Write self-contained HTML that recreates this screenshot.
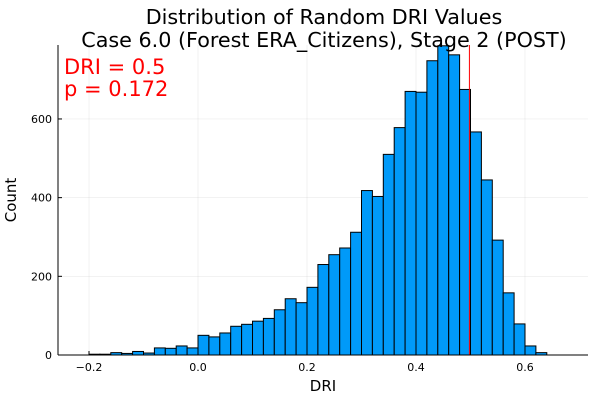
<!DOCTYPE html>
<html><head><meta charset="utf-8"><style>
body{margin:0;background:#fff;}
svg{display:block;font-family:"DejaVu Sans","Liberation Sans",sans-serif;}
</style></head><body>
<svg id="chart" width="600" height="400" viewBox="0 0 600 400" xmlns="http://www.w3.org/2000/svg">
<rect width="600" height="400" fill="#fff"/>
<g id="grid"></g>
<g id="bars"></g>
<g id="axes"></g>
<text x="324" y="24" font-size="20.7" text-anchor="middle" fill="#000">Distribution of Random DRI Values</text>
<text x="324" y="47" font-size="20.7" text-anchor="middle" fill="#000">Case 6.0 (Forest ERA_Citizens), Stage 2 (POST)</text>
<text x="323" y="391" font-size="15" text-anchor="middle">DRI</text>
<text transform="translate(16,200) rotate(-90)" font-size="15" text-anchor="middle">Count</text>
<text x="64" y="74" font-size="21" fill="#ff0000">DRI = 0.5</text>
<text x="64" y="96" font-size="21" fill="#ff0000">p = 0.172</text>
</svg>
<script>
const binStarts = [-0.20,-0.18,-0.16,-0.14,-0.12,-0.10,-0.08,-0.06,-0.04,-0.02,0.00,0.02,0.04,0.06,0.08,0.10,0.12,0.14,0.16,0.18,0.20,0.22,0.24,0.26,0.28,0.30,0.32,0.34,0.36,0.38,0.40,0.42,0.44,0.46,0.48,0.50,0.52,0.54,0.56,0.58,0.60,0.62];
const counts = [2,2,6,4,9,5,18,17,23,18,50,46,56,73,78,86,93,115,143,133,172,230,255,272,312,418,403,510,578,670,668,748,786,763,675,567,445,292,158,79,23,6];
const binWidth = 0.02;
const xTicks = [-0.2,0.0,0.2,0.4,0.6];
const xTickLabels = ["−0.2","0.0","0.2","0.4","0.6"];
const yTicks = [0,200,400,600];
const yTickLabels = ["0","200","400","600"];
const observedDRI = 0.498;

const L=58,R=588,T=45,B=355;
const xMin=-0.2569, xMax=0.7156, yMax=788;
const xs = v => L + (v - xMin)/(xMax - xMin)*(R-L);
const ys = v => B - v/yMax*(B-T);
const NS="http://www.w3.org/2000/svg";
function mk(tag, attrs, parent){const e=document.createElementNS(NS,tag);for(const k in attrs)e.setAttribute(k,attrs[k]);parent.appendChild(e);return e;}
const grid=document.getElementById('grid'), bars=document.getElementById('bars'), axes=document.getElementById('axes');
xTicks.forEach((t,i)=>{
  const g=mk('line',{x1:xs(t),x2:xs(t),y1:T,y2:B,stroke:'#000','stroke-opacity':0.1,'stroke-width':0.5},grid);
  
  
  const tk=mk('line',{x1:xs(t),x2:xs(t),y1:B,y2:B-4,stroke:'#000','stroke-width':1},axes);
  
  
  const lb=mk('text',{x:xs(t),y:B+16,'font-size':11,'text-anchor':'middle'},axes);
  lb.textContent=xTickLabels[i];
  
  
});
yTicks.forEach((t,i)=>{
  const g=mk('line',{x1:L,x2:R,y1:ys(t),y2:ys(t),stroke:'#000','stroke-opacity':0.1,'stroke-width':0.5},grid);
  
  
  const tk=mk('line',{x1:L,x2:L+4,y1:ys(t),y2:ys(t),stroke:'#000','stroke-width':1},axes);
  
  
  const lb=mk('text',{x:L-6,y:ys(t)+4,'font-size':11,'text-anchor':'end'},axes);
  lb.textContent=yTickLabels[i];
  
  
});
binStarts.forEach((s,i)=>{
  const x0=xs(s), x1=xs(s+binWidth), y0=ys(counts[i]);
  const r=mk('rect',{x:x0,y:y0,width:x1-x0,height:B-y0,fill:'#009af9',stroke:'#000','stroke-width':1},bars);
  
  
});
const vl=mk('line',{x1:xs(observedDRI),x2:xs(observedDRI),y1:T,y2:B,stroke:'#ff0000','stroke-width':1},bars);


const ax=mk('line',{x1:L,x2:R,y1:B,y2:B,stroke:'#000','stroke-width':1},axes);


const ay=mk('line',{x1:L,x2:L,y1:T,y2:B,stroke:'#000','stroke-width':1},axes);


</script>
</body></html>
